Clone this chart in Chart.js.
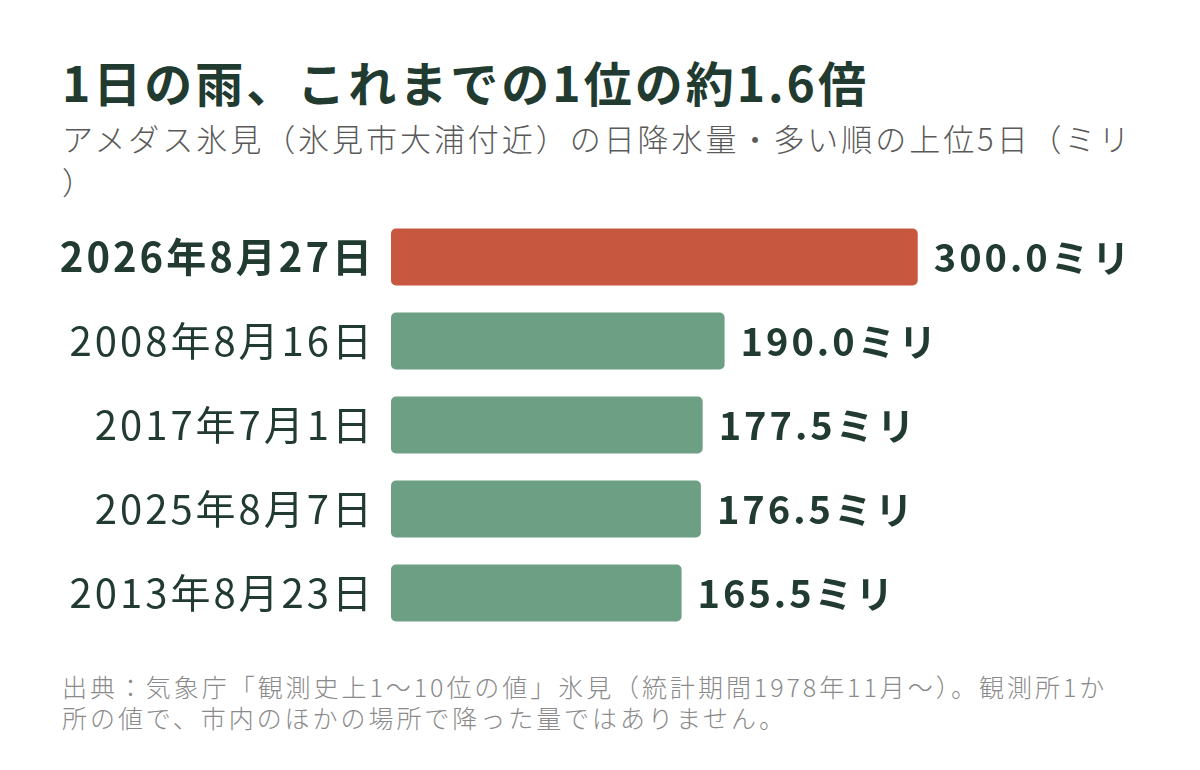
<!DOCTYPE html>
<html lang="ja">
<head>
<meta charset="utf-8">
<title>1日の雨、これまでの1位の約1.6倍</title>
<script src="https://cdn.jsdelivr.net/npm/chart.js@4"></script>
<style>
    body { margin: 0; background: #fff; font-family: "Noto Sans CJK JP", sans-serif; }
    .wrap { position: relative; width: 1200px; height: 770px; overflow: hidden; }
    .title { position: absolute; left: 62px; top: 51px; font-size: 48px; line-height: 60px; font-weight: bold; color: #213b31; letter-spacing: 3px; white-space: nowrap; }
    .sub { position: absolute; left: 62px; top: 116px; font-size: 31px; line-height: 43px; color: #5a5a5a; letter-spacing: 2.95px; font-weight: 300; }
    .chartBox { position: absolute; left: 0; top: 215px; width: 1200px; height: 420px; }
    .note { position: absolute; left: 62px; top: 671px; font-size: 25px; line-height: 31px; color: #8a8a8a; letter-spacing: 2.95px; font-weight: 300; white-space: nowrap; }
</style>
</head>
<body>
<div class="wrap">
    <div class="title">1日の雨、これまでの1位の約1.6倍</div>
    <div class="sub">アメダス氷見（氷見市大浦付近）の日降水量・多い順の上位5日（ミリ<br>）</div>
    <div class="chartBox"><canvas id="rainChart"></canvas></div>
    <div class="note">出典：気象庁「観測史上1〜10位の値」氷見（統計期間1978年11月〜）。観測所1か<br>所の値で、市内のほかの場所で降った量ではありません。</div>
</div>
<script>
// data
const dates = ['2026年8月27日', '2008年8月16日', '2017年7月1日', '2025年8月7日', '2013年8月23日'];
const rainfall = [300.0, 190.0, 177.5, 176.5, 165.5];
const unit = 'ミリ';

const textColor = '#213b31';
const font = '"Noto Sans CJK JP", sans-serif';

// canvas letter spacing to match the page text
const spacingPlugin = {
    id: 'spacing',
    beforeDraw(chart) { chart.ctx.letterSpacing = '3px'; }
};

// value labels at the end of each bar
const valueLabels = {
    id: 'valueLabels',
    afterDatasetsDraw(chart) {
        const ctx = chart.ctx;
        const meta = chart.getDatasetMeta(0);
        ctx.save();
        ctx.letterSpacing = '3px';
        ctx.font = 'bold 38px ' + font;
        ctx.fillStyle = textColor;
        ctx.textAlign = 'left';
        ctx.textBaseline = 'middle';
        meta.data.forEach((bar, i) => {
            ctx.fillText(rainfall[i].toFixed(1) + unit, bar.x + 16, bar.y + 1);
        });
        ctx.restore();
    }
};

new Chart(document.getElementById('rainChart'), {
    type: 'bar',
    data: {
        labels: dates,
        datasets: [{
            data: rainfall,
            backgroundColor: rainfall.map((v, i) => i === 0 ? '#c8573f' : '#6d9f85'),
            borderRadius: 5,
            borderSkipped: false,
            barPercentage: 0.68,
            categoryPercentage: 1
        }]
    },
    options: {
        indexAxis: 'y',
        responsive: true,
        maintainAspectRatio: false,
        animation: false,
        layout: { padding: { top: 0, bottom: 0, left: 0, right: 40 } },
        plugins: { legend: { display: false }, tooltip: { enabled: false } },
        scales: {
            x: { display: false, min: 0, max: 438 },
            y: {
                grid: { display: false },
                border: { display: false },
                afterFit(scale) {
                    scale.width = 391;
                    scale.paddingTop = 0;
                    scale.paddingBottom = 0;
                },
                ticks: {
                    padding: 8,
                    color: textColor,
                    font: ctx => ({ family: font, size: 40, weight: ctx.index === 0 ? 'bold' : 'normal' })
                }
            }
        }
    },
    plugins: [spacingPlugin, valueLabels]
});
</script>
</body>
</html>
